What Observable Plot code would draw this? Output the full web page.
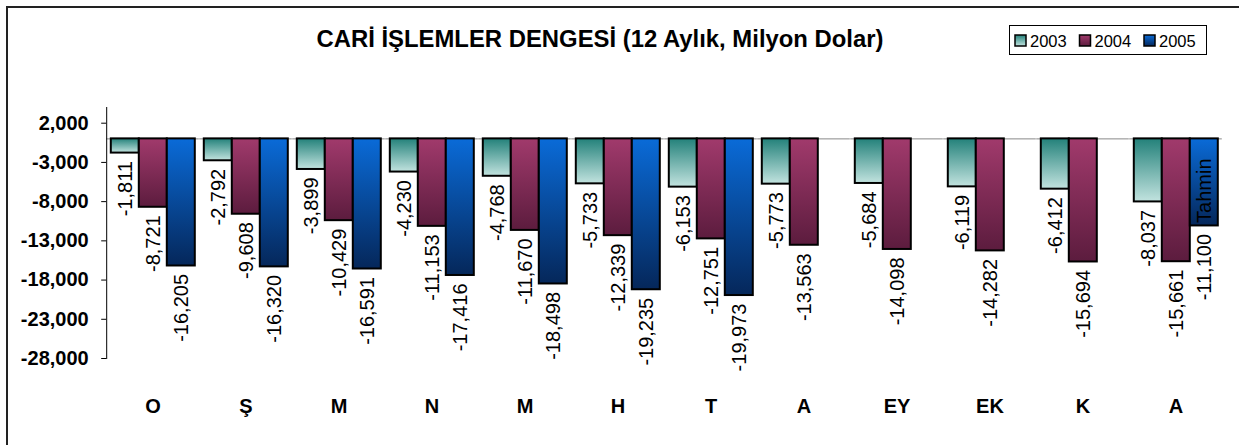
<!DOCTYPE html>
<html>
<head>
<meta charset="utf-8">
<script src="https://cdn.jsdelivr.net/npm/d3@7"></script>
<script src="https://cdn.jsdelivr.net/npm/@observablehq/plot@0.6"></script>
<style>
  html, body { margin: 0; padding: 0; background: #fff; }
  #wrap { position: relative; width: 1239px; height: 445px; overflow: hidden; background: #fff; font-family: "Liberation Sans", Arial, sans-serif; }
  #border { position: absolute; left: 6px; top: 6px; width: 1300px; height: 500px; border-left: 2px solid #222; border-top: 2px solid #222; }
  #chart { position: absolute; left: 0; top: 0; }
  #overlay { position: absolute; left: 0; top: 0; pointer-events: none; }
</style>
</head>
<body>
<div id="wrap">
  <div id="border"></div>
  <svg width="0" height="0" style="position:absolute">
    <defs>
      <linearGradient id="g2003" x1="0" y1="0" x2="0" y2="1">
        <stop offset="0" stop-color="#23817a"/>
        <stop offset="1" stop-color="#c2e3df"/>
      </linearGradient>
      <linearGradient id="g2004" x1="0" y1="0" x2="0" y2="1">
        <stop offset="0" stop-color="#a13a6c"/>
        <stop offset="1" stop-color="#5c1c3e"/>
      </linearGradient>
      <linearGradient id="g2005" x1="0" y1="0" x2="0" y2="1">
        <stop offset="0" stop-color="#0a6bd8"/>
        <stop offset="1" stop-color="#05275a"/>
      </linearGradient>
    </defs>
  </svg>
  <div id="chart"></div>
  <svg id="overlay" width="1239" height="445"></svg>
</div>
<script>
// ---- Data ----
const months = ["Ocak","Şubat","Mart","Nisan","Mayıs","Haziran","Temmuz","Ağustos","Eylül","Ekim","Kasım","Aralık"];
const monthLabels = ["O","Ş","M","N","M","H","T","A","EY","EK","K","A"];
const years = ["2003","2004","2005"];
const v2003 = [-1811,-2792,-3899,-4230,-4768,-5733,-6153,-5773,-5684,-6119,-6412,-8037];
const v2004 = [-8721,-9608,-10429,-11153,-11670,-12339,-12751,-13563,-14098,-14282,-15694,-15661];
const v2005 = [-16205,-16320,-16591,-17416,-18498,-19235,-19973,null,null,null,null,-11100];
const notes = [{month: "Aralık", year: "2005", value: -11100, text: "Tahmin"}];
const yTicks = [2000,-3000,-8000,-13000,-18000,-23000,-28000];
const title = "CARİ İŞLEMLER DENGESİ (12 Aylık, Milyon Dolar)";

const series = {"2003": v2003, "2004": v2004, "2005": v2005};
const data = years.flatMap(yr => months.map((m, i) => ({month: m, year: yr, value: series[yr][i]})))
  .filter(d => d.value != null);

const fmt = d3.formatLocale({decimal: ".", thousands: ",", grouping: [3], currency: ["$", ""], minus: "-"}).format(",");
const FONT = "'Liberation Sans', Arial, sans-serif";

const chart = Plot.plot({
  width: 1239,
  height: 445,
  marginLeft: 105.2,
  marginRight: 15.2,
  marginTop: 107,
  marginBottom: 87,
  style: {fontFamily: FONT, background: "transparent", color: "#000", overflow: "visible"},
  fx: {domain: months, padding: 0.06, label: null},
  x: {domain: years, padding: 0, axis: null},
  y: {domain: [-28000, 4000], label: null},
  marks: [
    Plot.ruleY([0], {stroke: "#888", strokeWidth: 1, insetLeft: -2.8, insetRight: -2.8}),
    Plot.frame({anchor: "left", facetAnchor: "left", insetLeft: -2.8, stroke: "#000", strokeWidth: 1}),
    Plot.axisY(yTicks, {tickSize: 5, tickPadding: 13, dx: -2.8, tickFormat: fmt, fontSize: 20, fontWeight: "bold", label: null, stroke: "#000"}),
    Plot.axisFx({anchor: "bottom", tickSize: 0, tickPadding: 40, label: null,
      tickFormat: d => monthLabels[months.indexOf(d)], fontSize: 20, fontWeight: "bold"}),
    ...years.map(yr => Plot.barY(data.filter(d => d.year === yr), {
      fx: "month", x: "year", y1: 0, y2: "value",
      fill: `url(#g${yr})`, stroke: "#000", strokeWidth: 2
    })),
    Plot.text(data, {
      fx: "month", x: "year", y: "value", text: d => fmt(d.value),
      rotate: -90, textAnchor: "end", lineAnchor: "middle", dy: 8, fontSize: 20, fill: "#000"
    }),
    Plot.text(notes, {
      fx: "month", x: "year", y: "value", text: "text",
      rotate: -90, textAnchor: "start", lineAnchor: "middle", dy: -3, fontSize: 20, fill: "#000"
    })
  ]
});
document.getElementById("chart").appendChild(chart);

// ---- Title and legend overlay ----
const ov = d3.select("#overlay");
ov.append("text")
  .attr("x", 600).attr("y", 47)
  .attr("text-anchor", "middle")
  .attr("font-family", FONT).attr("font-weight", "bold").attr("font-size", 23)
  .attr("textLength", 567).attr("lengthAdjust", "spacingAndGlyphs")
  .attr("fill", "#000")
  .text(title);

const lg = ov.append("g");
lg.append("rect").attr("x", 1009.5).attr("y", 25.5).attr("width", 197).attr("height", 29)
  .attr("fill", "#fff").attr("stroke", "#000").attr("stroke-width", 1);
years.forEach((yr, i) => {
  const x0 = 1015 + i * 64.5;
  lg.append("rect").attr("x", x0).attr("y", 35).attr("width", 11).attr("height", 11)
    .attr("fill", `url(#g${yr})`).attr("stroke", "#000").attr("stroke-width", 1.5);
  lg.append("text").attr("x", x0 + 15).attr("y", 47)
    .attr("font-family", FONT).attr("font-size", 16.5).attr("fill", "#000")
    .text(yr);
});
</script>
</body>
</html>
